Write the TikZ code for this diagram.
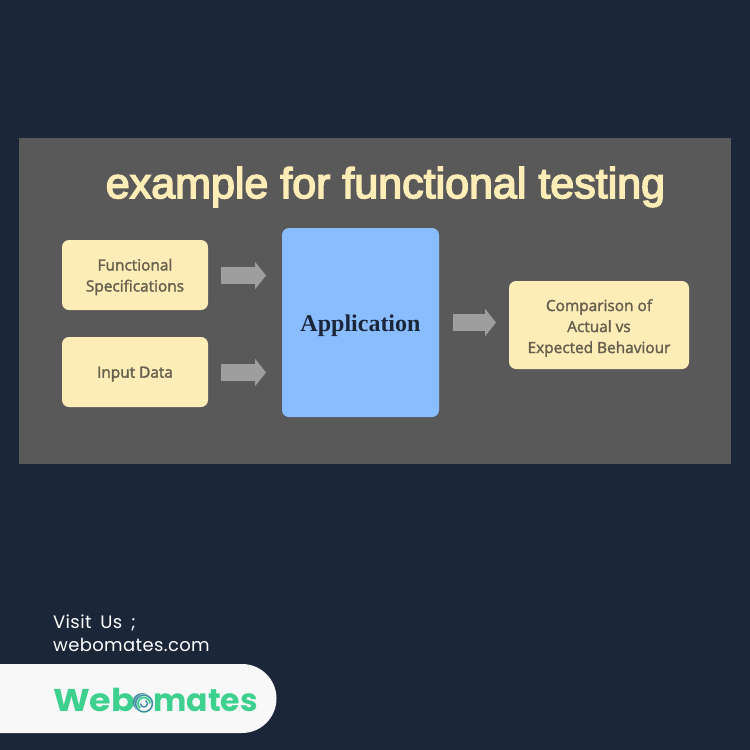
\documentclass[tikz,border=0pt]{standalone}
\usepackage{fontspec}
\setmainfont{Open Sans}
\newfontfamily\boxfont[RawFeature={embolden=2}]{Open Sans}
\newfontfamily\titlefont[RawFeature={embolden=3.5}]{Liberation Sans}
\newfontfamily\appfont{Liberation Serif}
\newfontfamily\popfont[LetterSpace=2,WordSpace=1.7]{Poppins}
\newfontfamily\logofont{Poppins}
\newcommand{\dn}[2]{\raisebox{-#1}[\height][\depth]{#2}}
\usetikzlibrary{arrows.meta}
\definecolor{bgc}{HTML}{1B2639}
\definecolor{panelc}{HTML}{595959}
\definecolor{creamc}{HTML}{FFEDB8}
\definecolor{bluec}{HTML}{8ABDFF}
\definecolor{txtc}{HTML}{666050}
\definecolor{greenc}{HTML}{3DD08F}
\definecolor{tealc}{HTML}{3F8FA0}
\definecolor{arrc}{HTML}{9E9E9E}
\tikzset{
 x=1pt,y=-1pt,
 cream/.style={fill=creamc,rounded corners=7pt,minimum width=146pt,inner sep=0pt,align=center,text=txtc,font=\boxfont\fontsize{15.4}{21}\selectfont},
 blockarrow/.style={draw=arrc,line width=17pt,-{Triangle[length=11pt,width=27pt,fill=arrc]}},
}
\begin{document}
\begin{tikzpicture}
\useasboundingbox (0,0) rectangle (750,750);
\fill[bgc] (0,0) rectangle (750,750);
\fill[panelc] (19,138) rectangle (731,464);
\node[text=creamc,font=\titlefont\fontsize{43}{48}\selectfont,inner sep=0pt] (title) at (385.5,187) {example for functional testing};
\node[cream,minimum height=70pt] (fs) at (135,275) {\dn{2pt}{Functional}\\\dn{2pt}{Specifications}};
\node[cream,minimum height=70pt] (input) at (135,372) {\dn{2pt}{Input Data}};
\node[fill=bluec,rounded corners=7pt,minimum width=157pt,minimum height=189pt,inner sep=0pt,text=bgc,font=\appfont\fontsize{24}{28}\selectfont\bfseries] (app) at (360.5,322.5) {\dn{3pt}{Application}};
\node[cream,minimum width=180pt,minimum height=88pt] (cmp) at (599,325) {\dn{3pt}{Comparison of}\\\dn{3pt}{Actual vs}\\\dn{3pt}{Expected Behaviour}};
\coordinate (a1s) at (221,275.5);
\coordinate (a1e) at (266,275.5);
\coordinate (a2s) at (221,372.5);
\coordinate (a2e) at (266,372.5);
\coordinate (a3s) at (453,322.5);
\coordinate (a3e) at (496,322.5);
\draw[blockarrow] (a1s) -- (a1e);
\draw[blockarrow] (a2s) -- (a2e);
\draw[blockarrow] (a3s) -- (a3e);
\node[anchor=west,text=white,inner sep=0pt,align=left,font=\popfont\fontsize{18}{23}\selectfont] (visit) at (53,633) {Visit Us ;\\webomates.com};
\fill[white!97!bgc] (0,664) -- (242,664) arc[start angle=90,end angle=-90,radius=34.5pt] -- (0,733) -- cycle;
\node[anchor=west,text=greenc,inner sep=0pt,font=\logofont\fontsize{31.5}{36}\selectfont\bfseries] (logo) at (53,699.5) {\scalebox{1.11}[1]{Web}\kern-3pt\textcolor{tealc}{o}\kern1pt mates};
\fill[white!97!bgc] (144,703.5) circle[radius=9.5pt];
\draw[tealc,line width=1.6pt] (144,703.5) circle[radius=8.4pt];
\draw[greenc,line width=1.8pt] (150,703.5) arc[start angle=0,end angle=230,radius=6pt];
\draw[tealc,line width=1.4pt] (140.5,703.5) arc[start angle=180,end angle=420,radius=3.5pt];
\end{tikzpicture}
\end{document}
